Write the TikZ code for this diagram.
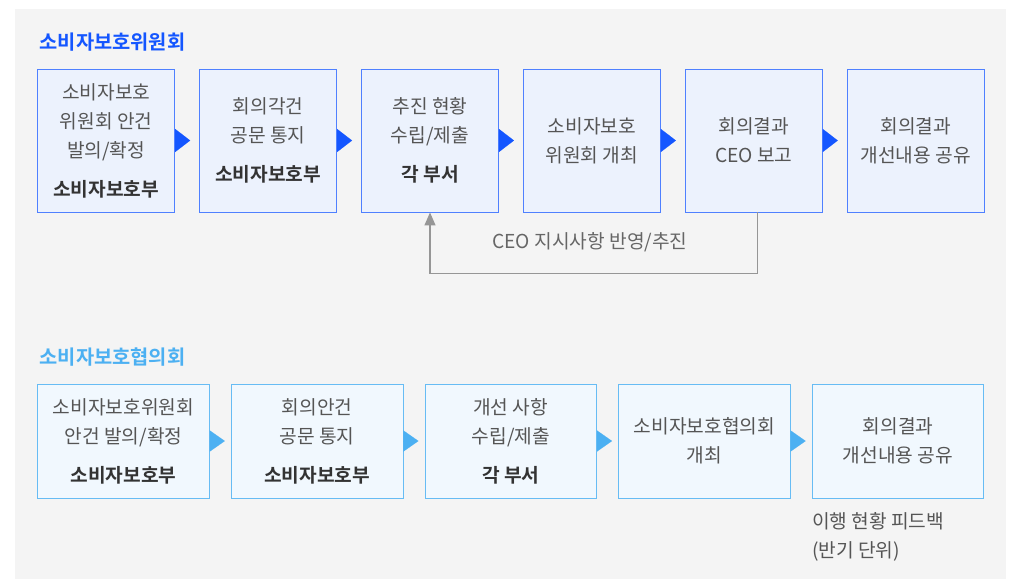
\documentclass[tikz,border=0pt]{standalone}
\usepackage{fontspec}
\setmainfont{Noto Sans CJK KR}[BoldFont={Noto Sans CJK KR Bold}]
\usetikzlibrary{arrows.meta,positioning}
\definecolor{bggray}{RGB}{244,244,244}
\definecolor{deepblue}{RGB}{20,86,255}
\definecolor{skyblue}{RGB}{76,176,242}
\definecolor{softdeep}{RGB}{236,242,253}
\definecolor{softsky}{RGB}{241,248,254}
\definecolor{textgray}{RGB}{85,85,85}
\definecolor{darkgray}{RGB}{51,51,51}
\definecolor{linegray}{RGB}{150,150,150}
\newcommand{\deptname}[1]{\textcolor{darkgray}{\bfseries #1}}

\begin{document}
\begin{tikzpicture}[x=1pt,y=1pt,node distance=0pt and 24pt,
    every node/.style={font=\fontsize{19.2}{29}\selectfont,text=textgray,align=center,inner sep=0pt},
    topbox/.style={draw=deepblue!75,fill=softdeep,line width=0.9pt,minimum width=137pt,minimum height=143pt},
    lowbox/.style={draw=skyblue!85,fill=softsky,line width=0.9pt,minimum width=171.5pt,minimum height=114pt},
    toptip/.style={draw=deepblue,line width=0.1pt,-{Triangle[length=15pt,width=23pt]},shorten >=9pt},
    lowtip/.style={draw=skyblue,line width=0.1pt,-{Triangle[length=15pt,width=21pt]},shorten >=6.2pt},
    grouptitle/.style={font=\fontsize{19.8}{23}\bfseries,anchor=west}]
    \fill[bggray] (15,-9) rectangle (1006,-579);
    \useasboundingbox (0,0) rectangle (1014,-579);
    % 소비자보호위원회
    \node[grouptitle,text=deepblue] (ttl1) at (39.5,-42) {소비자보호위원회};
    \node[topbox] (t1) at (106.2,-140.5) {소비자보호\\위원회 안건\\발의/확정\\[10pt]\deptname{소비자보호부}};
    \node[topbox,right=of t1] (t2) {회의각건\\공문 통지\\[10pt]\deptname{소비자보호부}};
    \node[topbox,right=of t2] (t3) {추진 현황\\수립/제출\\[10pt]\deptname{각 부서}};
    \node[topbox,right=of t3] (t4) {소비자보호\\위원회 개최};
    \node[topbox,right=of t4] (t5) {회의결과\\CEO 보고};
    \node[topbox,right=of t5] (t6) {회의결과\\개선내용 공유};
    \foreach \x/\y in {t1/t2,t2/t3,t3/t4,t4/t5,t5/t6}{\draw[toptip] (\x.east)--(\y.west);}
    \draw[linegray,line width=1.3pt,-{Triangle[length=13pt,width=11pt]}] ([xshift=4pt]t5.south) -- ++(0,-61) -| (t3.south);
    \node[text=textgray!90] (fbl) at (590,-242) {CEO 지시사항 반영/추진};
    % 소비자보호협의회
    \node[grouptitle,text=skyblue] (ttl2) at (39.5,-357) {소비자보호협의회};
    \node[lowbox] (b1) at (123.6,-441) {소비자보호위원회\\안건 발의/확정\\[10pt]\deptname{소비자보호부}};
    \node[lowbox,right=21.2pt of b1] (b2) {회의안건\\공문 통지\\[10pt]\deptname{소비자보호부}};
    \node[lowbox,right=21.2pt of b2] (b3) {개선 사항\\수립/제출\\[10pt]\deptname{각 부서}};
    \node[lowbox,right=21.2pt of b3] (b4) {소비자보호협의회\\개최};
    \node[lowbox,right=21.2pt of b4] (b5) {회의결과\\개선내용 공유};
    \foreach \x/\y in {b1/b2,b2/b3,b3/b4,b4/b5}{\draw[lowtip] (\x.east)--(\y.west);}
    \node[align=left,anchor=north west] (fbnote) at ([yshift=-14pt]b5.south west) {이행 현황 피드백\\(반기 단위)};
  \end{tikzpicture}
\end{document}
